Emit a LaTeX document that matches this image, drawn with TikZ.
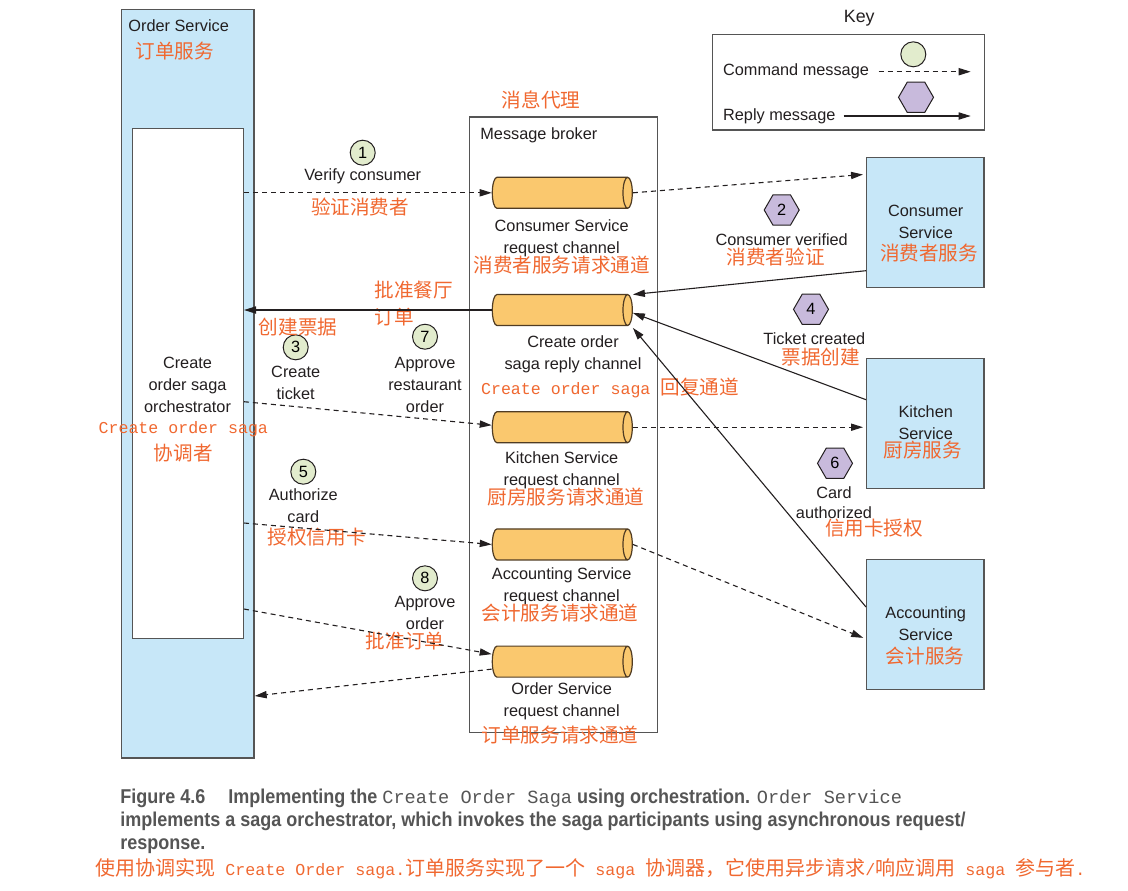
\documentclass[tikz,border=0pt]{standalone}
\usepackage{fontspec}
\setmainfont{Liberation Sans}
\setmonofont{Liberation Mono}
\newfontfamily\cjk{Noto Sans CJK SC}
\newfontfamily\capfont[FakeStretch=0.9]{Liberation Sans}
\usetikzlibrary{shapes.geometric,arrows.meta,positioning}
\definecolor{inkgray}{RGB}{35,31,32}
\definecolor{boxline}{RGB}{85,85,85}
\definecolor{svcblue}{RGB}{199,231,248}
\definecolor{zhorange}{RGB}{240,104,48}
\definecolor{cmdgreen}{RGB}{226,236,205}
\definecolor{reppurple}{RGB}{200,186,220}
\definecolor{chanfill}{RGB}{250,200,110}
\definecolor{chanline}{RGB}{80,60,35}
\definecolor{capgray}{RGB}{85,85,85}
\newcommand\capzh{\cjk\fontsize{10}{12}\selectfont}
\newcommand\captt{\ttfamily\fontsize{8.33}{12}\selectfont}
\newcommand\capcode{\ttfamily\mdseries\fontsize{9.3}{12}\selectfont}
\tikzset{
  lbl/.style={text=inkgray,font=\fontsize{8.15}{11}\selectfont,align=center,inner sep=0pt},
  zh/.style={text=zhorange,font=\cjk\fontsize{9.8}{13.5}\selectfont,inner sep=0pt},
  zhtt/.style={text=zhorange,font=\ttfamily\fontsize{8.3}{11}\selectfont,inner sep=0pt},
  svcbox/.style={draw=boxline,fill=svcblue,line width=0.7pt,inner sep=0pt},
  plainbox/.style={draw=boxline,fill=white,line width=0.7pt,inner sep=0pt},
  chan/.style={cylinder,draw=chanline,fill=chanfill,line width=0.6pt,minimum width=15.5pt,minimum height=70pt,aspect=0.3,inner xsep=0pt,inner ysep=7.75pt},
  cmdnum/.style={circle,draw=inkgray,fill=cmdgreen,line width=0.5pt,minimum size=12.5pt,inner sep=0pt,font=\fontsize{8.15}{10}\selectfont},
  repnum/.style={regular polygon,regular polygon sides=6,draw=inkgray,fill=reppurple,line width=0.5pt,minimum size=17.5pt,inner sep=0pt,font=\fontsize{8.15}{10}\selectfont},
  cmd/.style={draw=inkgray,line width=0.55pt,dash pattern=on 2.5pt off 2pt,-{Triangle[length=6pt,width=3.6pt]}},
  rep/.style={draw=inkgray,line width=0.55pt,-{Triangle[length=6pt,width=3.6pt]}},
  captxt/.style={text=capgray,font=\capfont\bfseries\fontsize{10}{12}\selectfont,inner sep=0pt,anchor=base west}
}

\begin{document}
\begin{tikzpicture}[x=0.5pt,y=-0.5pt]
\useasboundingbox (0,0) rectangle (1128,890);

\node[svcbox,minimum width=66.2pt,minimum height=374.3pt] (osvc) at (187.8,383.7) {};
\node[lbl,anchor=west] (osvctxt) at (128,26) {Order Service};
\node[zh,anchor=west] (osvczh) at (135,51) {订单服务};
\node[plainbox,minimum width=55.5pt,minimum height=255pt] (orch) at (187.8,383.3) {};
\node[lbl] (orchtxt) at (187.5,385) {Create\\order saga\\orchestrator};
\node[zhtt] (orchzh) at (183.3,429.5) {Create order saga};
\node[zh] (orchzh2) at (183.3,453.3) {协调者};

\node[plainbox,minimum width=94pt,minimum height=307.7pt] (broker) at (563.3,424.7) {};
\node[lbl,anchor=west] (brokertxt) at (480,135) {Message broker};
\node[zh] (brokerzh) at (541,100) {消息代理};

\node[chan,anchor=west] (ch1) at (491.7,192.8) {};
\node[chan,below=42.5pt of ch1] (ch2) {};
\node[chan,below=42.5pt of ch2] (ch3) {};
\node[chan,below=42.5pt of ch3] (ch4) {};
\node[chan,below=42.5pt of ch4] (ch5) {};

\node[lbl] (ch1txt) at (561.7,238.5) {Consumer Service\\request channel};
\node[zh] (ch1zh) at (561.7,265) {消费者服务请求通道};
\node[lbl] (ch2txt) at (573,353.8) {Create order\\saga reply channel};
\node[zhtt,anchor=west] (ch2zh) at (480.7,387.7) {Create order saga {\cjk\fontsize{9.8}{12}\selectfont 回复通道}};
\node[lbl] (ch3txt) at (561.7,470) {Kitchen Service\\request channel};
\node[zh] (ch3zh) at (566,497) {厨房服务请求通道};
\node[lbl] (ch4txt) at (561.7,586) {Accounting Service\\request channel};
\node[zh] (ch4zh) at (560,613.3) {会计服务请求通道};
\node[lbl] (ch5txt) at (561.7,701.5) {Order Service\\request channel};
\node[zh] (ch5zh) at (560,735) {订单服务请求通道};

\node[svcbox,minimum width=58.7pt,minimum height=65pt] (cons) at (925.4,222.3) {};
\node[lbl] (constxt) at (925.7,221.5) {Consumer\\Service};
\node[zh] (conszh) at (929,253.3) {消费者服务};
\node[svcbox,minimum width=58.7pt,minimum height=65pt] (kitch) at (925.4,423.7) {};
\node[lbl] (kitchtxt) at (925.7,422.8) {Kitchen\\Service};
\node[zh] (kitchzh) at (922.7,450) {厨房服务};
\node[svcbox,minimum width=58.7pt,minimum height=65pt] (acct) at (925.4,624.7) {};
\node[lbl] (accttxt) at (925.7,623.5) {Accounting\\Service};
\node[zh] (acctzh) at (925,656) {会计服务};

\node[cmdnum] (n1) at (362.7,152.7) {1};
\node[lbl] (n1txt) at (362.7,176.7) {Verify consumer};
\node[zh] (n1zh) at (360,206.7) {验证消费者};
\node[repnum] (n2) at (781.7,210) {2};
\node[lbl] (n2txt) at (781.7,239.3) {Consumer verified};
\node[zh] (n2zh) at (775.7,256.7) {消费者验证};
\node[cmdnum] (n3) at (295.7,347.3) {3};
\node[lbl] (n3txt) at (295.7,382.5) {Create\\ticket};
\node[zh] (n3zh) at (298,326.7) {创建票据};
\node[repnum] (n4) at (811,309.3) {4};
\node[lbl] (n4txt) at (814.3,338.3) {Ticket created};
\node[zh] (n4zh) at (820.7,356.7) {票据创建};
\node[cmdnum] (n5) at (303.3,471.7) {5};
\node[lbl] (n5txt) at (303.3,505.8) {Authorize\\card};
\node[zh] (n5zh) at (316.7,537.3) {授权信用卡};
\node[repnum] (n6) at (835,463.3) {6};
\node[lbl,font=\fontsize{8.15}{9.8}\selectfont] (n6txt) at (834,502.5) {Card\\authorized};
\node[zh] (n6zh) at (874,528.3) {信用卡授权};
\node[cmdnum] (n7) at (425,336.7) {7};
\node[lbl] (n7txt) at (425,384.8) {Approve\\restaurant\\order};
\node[zh,anchor=west,align=left] (n7zh) at (374,303.5) {批准餐厅\\订单};
\node[cmdnum] (n8) at (425,578.3) {8};
\node[lbl] (n8txt) at (425,613) {Approve\\order};
\node[zh] (n8zh) at (405,640.7) {批准订单};

\draw[cmd] (orch.east |- ch1.west) -- (ch1.west);
\draw[cmd,shorten >=1.5pt] (ch1.east) -- ([yshift=-8.85pt]cons.north west);
\draw[rep] ([yshift=8.65pt]cons.south west) -- ([yshift=7.75pt]ch2.east);
\draw[rep] (ch2.west) -- (orch.east |- ch2.west);
\draw[cmd] ([yshift=-9.2pt]orch.east) -- ([yshift=1pt]ch3.west);
\draw[cmd,shorten >=1.5pt] (ch3.east) -- (kitch.west |- ch3.east);
\draw[rep] ([yshift=-20.85pt]kitch.north west) -- ([yshift=-1.45pt]ch2.east);
\draw[rep] ([yshift=-24pt]acct.north west) -- ([yshift=-8.95pt]ch2.east);
\draw[cmd] ([yshift=-69.85pt]orch.east) -- (ch4.west);
\draw[cmd,shorten >=1.5pt] (ch4.east) -- ([yshift=-7.15pt]acct.west);
\draw[cmd] ([yshift=-112.85pt]orch.east) -- ([yshift=3.75pt]ch5.west);
\draw[cmd] ([yshift=-3.75pt]ch5.west) -- ([yshift=-156.15pt]osvc.east);

\node[lbl,font=\fontsize{8.9}{11}\selectfont] (keytitle) at (859.3,18.3) {Key};
\node[plainbox,minimum width=135.8pt,minimum height=47.8pt] (key) at (848.5,82.2) {};
\node[cmdnum] (keycmd) at (913.3,54.3) {};
\node[lbl,anchor=west] (cmdtxt) at (722.7,71.7) {Command message};
\node[repnum] (keyrep) at (916,97.3) {};
\node[lbl,anchor=west] (reptxt) at (722.7,116) {Reply message};
\draw[cmd] ([xshift=4.6pt]cmdtxt.east) -- ([xshift=-7.15pt]cmdtxt.east -| key.east);
\draw[rep] ([xshift=3.85pt]reptxt.east) -- ([xshift=-7.15pt]reptxt.east -| key.east);

\node[captxt] (capfig) at (120,803) {Figure 4.6};
\node[captxt] (capl1) at (228,803) {Implementing the {\capcode Create Order Saga} using orchestration. {\capcode Order Service}};
\node[captxt] (capl2) at (120,826) {implements a saga orchestrator, which invokes the saga participants using asynchronous request/};
\node[captxt] (capl3) at (120,849) {response.};
\node[anchor=base west,inner sep=0pt,text=zhorange] (capzh) at (95,875) {\capzh 使用协调实现\captt{} Create Order saga.\capzh 订单服务实现了一个\captt{} saga \capzh 协调器，它使用异步请求\captt /\capzh 响应调用\captt{} saga \capzh 参与者\captt .};
\end{tikzpicture}
\end{document}
